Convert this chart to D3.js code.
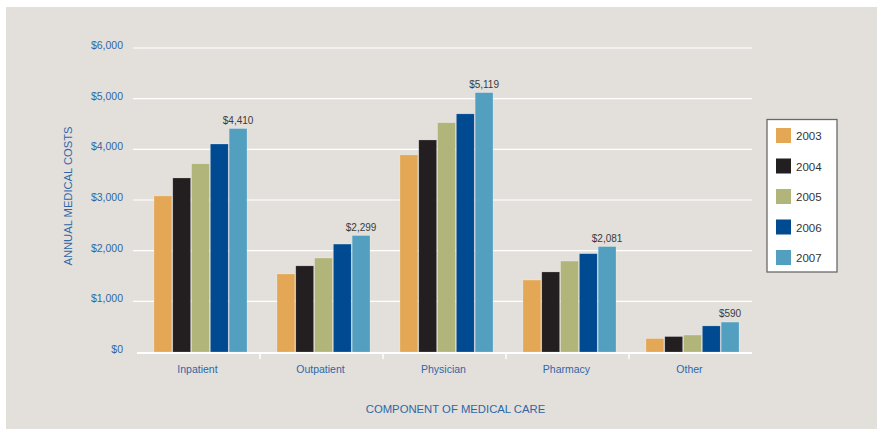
<!DOCTYPE html>
<html>
<head>
<meta charset="utf-8">
<script src="https://cdn.jsdelivr.net/npm/d3@7"></script>
<style>
  html, body { margin: 0; padding: 0; background: #ffffff; }
  svg { display: block; }
  text { font-family: "Liberation Sans", Arial, Helvetica, sans-serif; }
</style>
</head>
<body>
<div id="chart"></div>
<script>
// Annual medical costs by component of care, 2003–2007
const categories = ["Inpatient", "Outpatient", "Physician", "Pharmacy", "Other"];
const years = ["2003", "2004", "2005", "2006", "2007"];
const costs2003 = [3080, 1540, 3890, 1420, 265];
const costs2004 = [3435, 1700, 4185, 1580, 305];
const costs2005 = [3715, 1855, 4525, 1795, 335];
const costs2006 = [4105, 2130, 4700, 1940, 515];
const costs2007 = [4410, 2299, 5119, 2081, 590];
const yTicks = [0, 1000, 2000, 3000, 4000, 5000, 6000];
const yearColors = ["#e3a755", "#231f20", "#b2b57a", "#004a91", "#529fc0"];

const seriesByYear = [costs2003, costs2004, costs2005, costs2006, costs2007];

const W = 877, H = 429;
const svg = d3.select("#chart").append("svg").attr("width", W).attr("height", H);

// background panel
svg.append("rect").attr("x", 6).attr("y", 7).attr("width", W - 6).attr("height", H - 7)
  .attr("fill", "#e3e0dc");

const plotLeft = 137, plotRight = 752;
const y = d3.scaleLinear().domain([0, 6000]).range([352, 48]);
const x0 = d3.scaleBand().domain(categories).range([plotLeft, plotRight]);
const x1 = d3.scaleBand().domain(years).range([17, 110]).paddingInner(0.05);
const color = d3.scaleOrdinal().domain(years).range(yearColors);
const fmt = d3.format("$,");

const axisBlue = "#2e67a6";

// gridlines
svg.append("g").selectAll("line").data(yTicks.filter(d => d > 0)).join("line")
  .attr("x1", 133).attr("x2", plotRight)
  .attr("y1", d => y(d)).attr("y2", d => y(d))
  .attr("stroke", "#ffffff").attr("stroke-width", 1.2);

// y tick labels
svg.append("g").selectAll("text").data(yTicks).join("text")
  .attr("x", 123).attr("y", d => y(d)).attr("dy", "0.1em")
  .attr("text-anchor", "end").attr("font-size", 10.5).attr("fill", axisBlue)
  .text(d => fmt(d));

// bars
const groups = svg.append("g").selectAll("g").data(categories).join("g")
  .attr("transform", c => `translate(${x0(c)},0)`);

groups.selectAll("rect")
  .data((c, i) => years.map((yr, j) => ({ yr, v: seriesByYear[j][i] })))
  .join("rect")
  .attr("x", d => x1(d.yr))
  .attr("width", x1.bandwidth())
  .attr("y", d => y(d.v))
  .attr("height", d => y(0) - y(d.v))
  .attr("fill", d => color(d.yr))
  .attr("stroke", "#ffffff").attr("stroke-opacity", 0.35).attr("stroke-width", 0.6);

// value label over the 2007 bar
groups.append("text")
  .attr("x", (c) => x1("2007") + x1.bandwidth() / 2)
  .attr("y", (c, i) => y(costs2007[i]) - 5)
  .attr("text-anchor", "middle").attr("font-size", 10).attr("fill", "#3a3a3a")
  .text((c, i) => fmt(costs2007[i]));

// baseline with category dividers
svg.append("line").attr("x1", plotLeft).attr("x2", plotRight)
  .attr("y1", y(0) + 1).attr("y2", y(0) + 1)
  .attr("stroke", "#ffffff").attr("stroke-width", 2);
svg.append("g").selectAll("line").data(categories.slice(1)).join("line")
  .attr("x1", c => x0(c)).attr("x2", c => x0(c))
  .attr("y1", y(0)).attr("y2", y(0) + 7)
  .attr("stroke", "#ffffff").attr("stroke-width", 1.5);

// category labels
svg.append("g").selectAll("text").data(categories).join("text")
  .attr("x", c => x0(c) + x0.bandwidth() / 2 - 1).attr("y", 373)
  .attr("text-anchor", "middle").attr("font-size", 10.5).attr("fill", axisBlue)
  .text(c => c);

// axis titles
svg.append("text").attr("x", 455.5).attr("y", 413)
  .attr("text-anchor", "middle").attr("font-size", 11.3).attr("fill", axisBlue)
  .text("COMPONENT OF MEDICAL CARE");
svg.append("text")
  .attr("transform", "translate(72,196) rotate(-90)")
  .attr("text-anchor", "middle").attr("font-size", 11.2).attr("fill", axisBlue)
  .text("ANNUAL MEDICAL COSTS");

// legend
const legend = svg.append("g").attr("transform", "translate(767,119.5)");
legend.append("rect").attr("x", 0).attr("y", 0).attr("width", 70).attr("height", 152.5)
  .attr("fill", "#ffffff").attr("stroke", "#6b6868").attr("stroke-width", 1.3);
const items = legend.selectAll("g").data(years).join("g")
  .attr("transform", (d, i) => `translate(9,${8.5 + i * 30.5})`);
items.append("rect").attr("width", 15).attr("height", 15).attr("fill", d => color(d));
items.append("text").attr("x", 20).attr("y", 12)
  .attr("font-size", 11.5).attr("fill", "#333333").text(d => d);
</script>
</body>
</html>
